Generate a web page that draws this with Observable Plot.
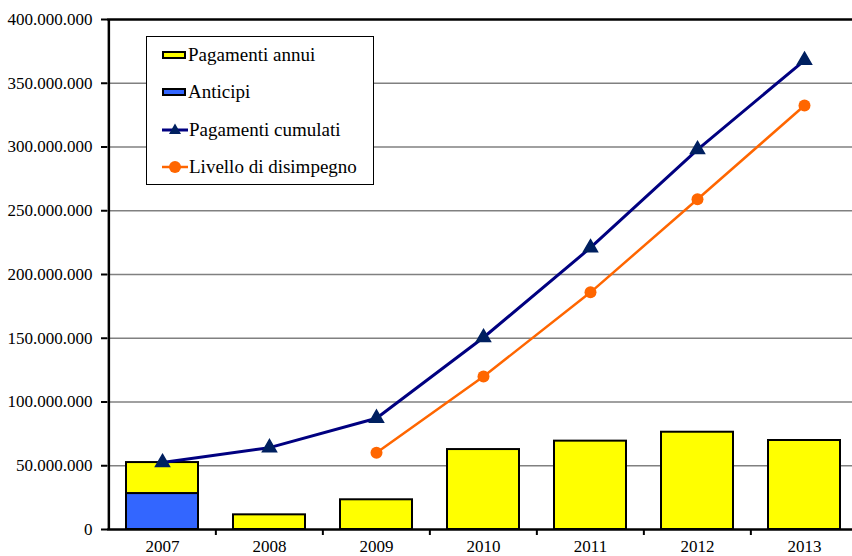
<!DOCTYPE html>
<html><head><meta charset="utf-8">
<script src="https://cdn.jsdelivr.net/npm/d3@7"></script>
<script src="https://cdn.jsdelivr.net/npm/@observablehq/plot@0.6"></script>
<style>
html,body{margin:0;padding:0;background:#fff;overflow:hidden;font-family:'Liberation Serif',serif;}
#wrap{position:relative;width:852px;height:556px;font-family:'Liberation Serif',serif;}
#legend{position:absolute;left:146px;top:36px;width:228px;height:149px;border:1.5px solid #000;background:#fff;box-sizing:border-box;font-size:19px;color:#000;font-family:'Liberation Serif',serif;}
.li{position:absolute;left:15px;height:20px;display:flex;align-items:center;white-space:nowrap;}
.sw{width:20px;height:4px;border:2px solid #000;margin-right:2px;}
.ln{width:26px;height:20px;margin-right:1px;}
</style></head>
<body><div id="wrap"><div id="legend"></div></div>
<script>
const years = ["2007","2008","2009","2010","2011","2012","2013"];
const pagamentiAnnui = [24300000, 11500000, 23300000, 62700000, 69300000, 76300000, 69800000];
const anticipi = [28200000, 0, 0, 0, 0, 0, 0];
const pagamentiCumulati = [52500000, 64200000, 87300000, 150600000, 221000000, 298000000, 368000000];
const disimpegnoYears = ["2009","2010","2011","2012","2013"];
const livelloDisimpegno = [60200000, 120000000, 186000000, 259000000, 332500000];
const yTicks = [0,50000000,100000000,150000000,200000000,250000000,300000000,350000000,400000000];
const legendLabels = ["Pagamenti annui","Anticipi","Pagamenti cumulati","Livello di disimpegno"];

const YELLOW="#FFFF00", BLUE="#3366FF", NAVY="#000080", NAVYM="#002060", ORANGE="#FF6600";
const FONT = "Liberation Serif";

const stacked = [];
years.forEach((y,i)=>{
  if (anticipi[i]>0) stacked.push({year:y, y1:0, y2:anticipi[i], s:"Anticipi"});
  stacked.push({year:y, y1:anticipi[i], y2:anticipi[i]+pagamentiAnnui[i], s:"Pagamenti annui"});
});
const cum = years.map((y,i)=>({year:y, v:pagamentiCumulati[i]}));
const dis = disimpegnoYears.map((y,i)=>({year:y, v:livelloDisimpegno[i]}));

const loc = d3.formatLocale({decimal:",", thousands:".", grouping:[3], currency:["",""]});
const fmt = loc.format(",d");

const x0 = 107, x1 = 858;
const step = (x1-x0)/years.length;

const plot = Plot.plot({
  width: 852, height: 556,
  marginLeft: 107, marginRight: 0, marginTop: 19, marginBottom: 27,
  style: {fontFamily: FONT, fontSize: "17px", color:"#000", background:"#fff", overflow:"hidden"},
  x: {domain: years, range: [x0, x1], paddingInner: 0.33, paddingOuter: 0.165, axis: null},
  y: {domain: [0, 400000000], axis: null},
  marks: [
    Plot.ruleY(yTicks.slice(1,-1), {stroke:"#808080", strokeWidth:1.3}),
    Plot.barY(stacked, {x:"year", y1:"y1", y2:"y2", fill:d=>d.s==="Anticipi"?BLUE:YELLOW, stroke:"#000", strokeWidth:2}),
    Plot.line(cum, {x:"year", y:"v", stroke:NAVY, strokeWidth:3}),
    Plot.dot(cum, {x:"year", y:"v", symbol:"triangle", r:5.2, fill:NAVYM, stroke:NAVYM}),
    Plot.line(dis, {x:"year", y:"v", stroke:ORANGE, strokeWidth:2.5}),
    Plot.dot(dis, {x:"year", y:"v", r:6, fill:ORANGE}),
    Plot.ruleY([400000000], {stroke:"#000", strokeWidth:2.5}),
    Plot.ruleY([0], {stroke:"#000", strokeWidth:2.5}),
    Plot.ruleX([years[0]], {stroke:"#000", strokeWidth:2.5, dx:-step/2, y1:0, y2:400000000}),
    Plot.axisY(yTicks, {tickFormat: d=>fmt(d), tickSize:6, tickPadding:9, stroke:"#000", strokeWidth:2, fill:"#000", fontSize:17, fontFamily:FONT}),
    Plot.ruleX(years.slice(1), {x:d=>d, dx:-step/2, y1:0, y2:0, insetBottom:-6, stroke:"#000", strokeWidth:2}),
    Plot.axisX(years, {tickSize:0, tickPadding:10, fill:"#000", fontSize:17, fontFamily:FONT, label:null})
  ]
});
document.getElementById("wrap").appendChild(plot);

// legend (HTML overlay)
const lg = document.getElementById("legend");
const tops = [8, 45, 83, 120];
const swatch = [
  `<div class="sw" style="background:${YELLOW}"></div>`,
  `<div class="sw" style="background:${BLUE}"></div>`,
  `<svg class="ln" viewBox="0 0 26 20"><line x1="0" y1="10" x2="26" y2="10" stroke="${NAVY}" stroke-width="3"/><path d="M13,3.5 L19,14 L7,14 Z" fill="${NAVYM}"/></svg>`,
  `<svg class="ln" viewBox="0 0 26 20"><line x1="0" y1="10" x2="26" y2="10" stroke="${ORANGE}" stroke-width="2.5"/><circle cx="13" cy="10" r="6" fill="${ORANGE}"/></svg>`
];
legendLabels.forEach((t,i)=>{
  const d = document.createElement("div");
  d.className = "li";
  d.style.top = tops[i] + "px";
  d.innerHTML = swatch[i] + `<span style="font-family:'Liberation Serif',serif">${t}</span>`;
  lg.appendChild(d);
});
</script>
</body></html>
